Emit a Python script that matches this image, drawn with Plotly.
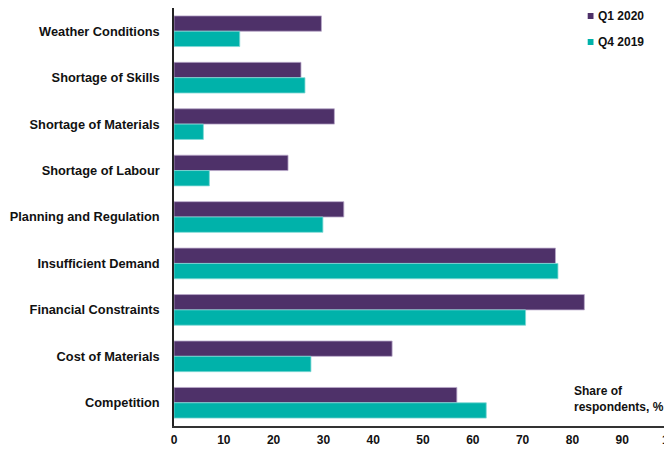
import plotly.graph_objects as go

categories = [
    "Weather Conditions",
    "Shortage of Skills",
    "Shortage of Materials",
    "Shortage of Labour",
    "Planning and Regulation",
    "Insufficient Demand",
    "Financial Constraints",
    "Cost of Materials",
    "Competition",
]
q1_2020 = [29.6, 25.5, 32.2, 22.9, 34.1, 76.6, 82.4, 43.8, 56.8]
q4_2019 = [13.2, 26.3, 5.9, 7.1, 29.9, 77.1, 70.6, 27.5, 62.7]
x_ticks = [0, 10, 20, 30, 40, 50, 60, 70, 80, 90, 100]

PURPLE = "#4E3169"
TEAL = "#00B2AA"
FONT = "Liberation Sans, Arial, sans-serif"

# The page puts the figure at an 8px body offset; sizes chosen to avoid scrollbars.
W, H = 664, 440
L, R, T, B = 166, 0, 0, 22
PW, PH = W - L - R, H - T - B


def px(fx):
    return (fx - L) / PW


def py(fy):
    return 1 - (fy - T) / PH


fig = go.Figure()
fig.add_trace(go.Bar(
    y=categories, x=q1_2020, orientation="h", name="Q1 2020",
    marker=dict(color=PURPLE, line=dict(color="#B9A8C9", width=0.8)),
    showlegend=False,
))
fig.add_trace(go.Bar(
    y=categories, x=q4_2019, orientation="h", name="Q4 2019",
    marker=dict(color=TEAL, line=dict(color="#7FD8D4", width=0.8)),
    showlegend=False,
))

# Legend drawn as small squares + labels
legend_items = [("Q1 2020", PURPLE, 8), ("Q4 2019", TEAL, 34)]
for label, col, fy in legend_items:
    fig.add_shape(type="rect", xref="paper", yref="paper",
                  x0=px(579.7), x1=px(585.5),
                  y0=py(fy + 3), y1=py(fy - 3),
                  fillcolor=col, line=dict(width=0))
    fig.add_annotation(xref="paper", yref="paper",
                       x=px(587.5), y=py(fy),
                       text=f"<b>{label}</b>", showarrow=False,
                       xanchor="left", yanchor="middle",
                       font=dict(family=FONT, size=12, color="#111"))

fig.add_annotation(xref="paper", yref="paper",
                   x=px(564), y=py(391),
                   text="<b>Share of<br>respondents, %</b>", showarrow=False,
                   xanchor="left", yanchor="middle", align="left",
                   font=dict(family=FONT, size=12, color="#111"))

fig.update_layout(
    width=W, height=H,
    margin=dict(l=L, r=R, t=T, b=B, pad=0),
    barmode="group", bargap=0.34, bargroupgap=0,
    plot_bgcolor="white", paper_bgcolor="white",
    font=dict(family=FONT, size=12.5, color="#111"),
    xaxis=dict(
        range=[0, 100], tickvals=x_ticks,
        ticktext=[f"<b>{t}</b>" for t in x_ticks],
        showgrid=False, zeroline=False,
        showline=True, linecolor="#333", linewidth=1.5,
        ticks="", ticklabelstandoff=2, ticklabeloverflow="allow",
        tickfont=dict(size=12, family=FONT, color="#111"),
        automargin=False,
    ),
    yaxis=dict(
        autorange="reversed", showgrid=False, zeroline=False,
        showline=True, linecolor="#222", linewidth=1.5,
        ticks="", ticklabelstandoff=10,
        tickvals=categories,
        ticktext=[f"<b>{c}</b>" for c in categories],
        tickfont=dict(size=12.8, family=FONT, color="#111"),
        automargin=False,
    ),
)

fig.write_html("out.html")
